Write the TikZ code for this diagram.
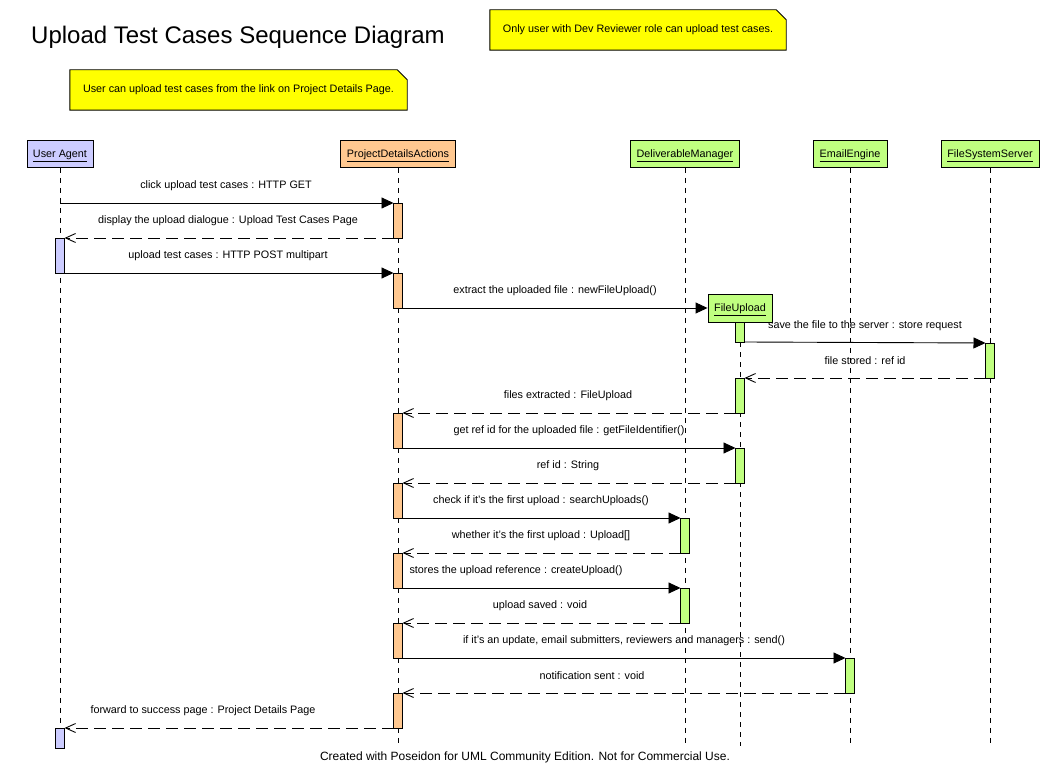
\documentclass[tikz,border=0pt]{standalone}
\usepackage{fontspec}
\setmainfont{Liberation Sans}
\usetikzlibrary{arrows.meta,backgrounds}
\definecolor{uacol}{HTML}{CCCCFF}
\definecolor{pdacol}{HTML}{FFC890}
\definecolor{grn}{HTML}{C0FF80}
\definecolor{noteyel}{HTML}{FFFF00}
\begin{document}
\begin{tikzpicture}[x=1pt,y=-1pt,
  font=\fontsize{10.8}{12.5}\selectfont,
  obj/.style={draw, line width=0.9pt, minimum height=27pt, inner sep=0pt, text height=8pt, text depth=0pt},
  bar/.style={draw, line width=0.9pt, minimum width=9pt, inner sep=0pt, outer sep=0pt},
  life/.style={line width=0.8pt, dash pattern=on 5pt off 5pt},
  sync/.style={line width=0.9pt, -{Triangle[length=12pt,width=11pt]}},
  ret/.style={line width=0.9pt, dash pattern=on 12pt off 6pt, -{Straight Barb[length=10pt,width=9pt,line width=0.9pt]}},
  lbl/.style={inner sep=0pt},
  notebox/.style={inner sep=0pt},
  notefill/.style={draw, line width=0.9pt, fill=noteyel}
]
\useasboundingbox (0,0) rectangle (1050,783);

% title
\node[lbl, font=\fontsize{24}{28}\selectfont, anchor=west] (title) at (31,37) {Upload Test Cases Sequence Diagram};

% notes
\node[notebox, minimum width=296pt, minimum height=40pt] (n1) at (638,30) {Only user with Dev Reviewer role can upload test cases.};
\node[notebox, minimum width=337pt, minimum height=40pt] (n2) at (238.5,90) {User can upload test cases from the link on Project Details Page.};
\begin{scope}[on background layer]
\fill[white] (0,0) rectangle (1050,783);
\draw[notefill] (n1.north west) -- ([xshift=-10pt]n1.north east) -- ([yshift=-10pt]n1.north east) -- (n1.south east) -- (n1.south west) -- cycle;
\draw[notefill] (n2.north west) -- ([xshift=-10pt]n2.north east) -- ([yshift=-10pt]n2.north east) -- (n2.south east) -- (n2.south west) -- cycle;
\end{scope}

% objects
\node[obj, fill=uacol, minimum width=66pt] (ua) at (60,154) {\underline{User Agent}};
\node[obj, fill=pdacol, minimum width=115pt] (pda) at (398,154) {\underline{ProjectDetailsActions}};
\node[obj, fill=grn, minimum width=109pt] (dm) at (685,154) {\underline{DeliverableManager}};
\node[obj, fill=grn, minimum width=74pt] (ee) at (850,154) {\underline{EmailEngine}};
\node[obj, fill=grn, minimum width=98pt] (fss) at (990,154) {\underline{FileSystemServer}};

% lifeline ends
\coordinate (uaend) at (60,748);
\coordinate (pdaend) at (398,746);
\coordinate (dmend) at (685,746);
\coordinate (fuend) at (740,746);
\coordinate (eeend) at (850,746);
\coordinate (fssend) at (990,746);

\draw[life] (ua.south) -- (uaend);
\draw[life] (pda.south) -- (pdaend);
\draw[life] (dm.south) -- (dmend);
\draw[life] (ee.south) -- (eeend);
\draw[life] (fss.south) -- (fssend);

% FileUpload object (created)
\node[obj, fill=grn, minimum width=64pt, minimum height=28pt] (fu) at (740,308) {\underline{FileUpload}};
\draw[life] (fu.south) -- (fuend);

% activation bars
\node[bar, fill=uacol, minimum height=35pt] (ua1) at (60,255.5) {};
\node[bar, fill=uacol, minimum height=20pt] (ua2) at (60,738) {};
\node[bar, fill=pdacol, minimum height=35pt] (p1) at (398,220.5) {};
\node[bar, fill=pdacol, minimum height=35pt] (p2) at (398,290.5) {};
\node[bar, fill=pdacol, minimum height=35pt] (p3) at (398,430.5) {};
\node[bar, fill=pdacol, minimum height=35pt] (p4) at (398,500.5) {};
\node[bar, fill=pdacol, minimum height=35pt] (p5) at (398,570.5) {};
\node[bar, fill=pdacol, minimum height=35pt] (p6) at (398,640.5) {};
\node[bar, fill=pdacol, minimum height=35pt] (p7) at (398,710.5) {};
\node[bar, fill=grn, minimum height=20pt] (fu1) at (740,332) {};
\node[bar, fill=grn, minimum height=35pt] (fu2) at (740,395.5) {};
\node[bar, fill=grn, minimum height=35pt] (fu3) at (740,465.5) {};
\node[bar, fill=grn, minimum height=35pt] (fs1) at (990,360.5) {};
\node[bar, fill=grn, minimum height=35pt] (dm1) at (685,535.5) {};
\node[bar, fill=grn, minimum height=35pt] (dm2) at (685,605.5) {};
\node[bar, fill=grn, minimum height=35pt] (ee1) at (850,675.5) {};

% messages
\draw[sync] (ua.south |- p1.north west) -- (p1.north west);
\node[lbl] (m1) at (226,185.5) {click upload test cases : HTTP GET};
\draw[ret] (p1.south west) -- (ua1.north east);
\node[lbl] (m2) at (228,220.5) {display the upload dialogue : Upload Test Cases Page};
\draw[sync] (ua1.south east) -- (p2.north west);
\node[lbl] (m3) at (228,255.5) {upload test cases : HTTP POST multipart};
\draw[sync] (p2.south east) -- (fu.west);
\node[lbl] (m4) at (555,290.5) {extract the uploaded file : newFileUpload()};
\draw[sync] (fu1.south east) -- (fs1.north west);
\node[lbl] (m5) at (865,325.5) {save the file to the server : store request};
\draw[ret] (fs1.south west) -- (fu2.north east);
\node[lbl] (m6) at (865,360.5) {file stored : ref id};
\draw[ret] (fu2.south west) -- (p3.north east);
\node[lbl] (m7) at (568,395.5) {files extracted : FileUpload};
\draw[sync] (p3.south east) -- (fu3.north west);
\node[lbl] (m8) at (569,430.5) {get ref id for the uploaded file : getFileIdentifier()};
\draw[ret] (fu3.south west) -- (p4.north east);
\node[lbl] (m9) at (568,465.5) {ref id : String};
\draw[sync] (p4.south east) -- (dm1.north west);
\node[lbl] (m10) at (541,500.5) {check if it's the first upload : searchUploads()};
\draw[ret] (dm1.south west) -- (p5.north east);
\node[lbl] (m11) at (541,535.5) {whether it's the first upload : Upload[]};
\draw[sync] (p5.south east) -- (dm2.north west);
\node[lbl] (m12) at (516,570.5) {stores the upload reference : createUpload()};
\draw[ret] (dm2.south west) -- (p6.north east);
\node[lbl] (m13) at (540,605.5) {upload saved : void};
\draw[sync] (p6.south east) -- (ee1.north west);
\node[lbl] (m14) at (624,640.5) {if it's an update, email submitters, reviewers and managers : send()};
\draw[ret] (ee1.south west) -- (p7.north east);
\node[lbl] (m15) at (592,675.5) {notification sent : void};
\draw[ret] (p7.south west) -- (ua2.north east);
\node[lbl] (m16) at (203,710.5) {forward to success page : Project Details Page};

% footer
\node[lbl, font=\fontsize{12}{14}\selectfont] (foot) at (525,757) {Created with Poseidon for UML Community Edition. Not for Commercial Use.};
\end{tikzpicture}
\end{document}
